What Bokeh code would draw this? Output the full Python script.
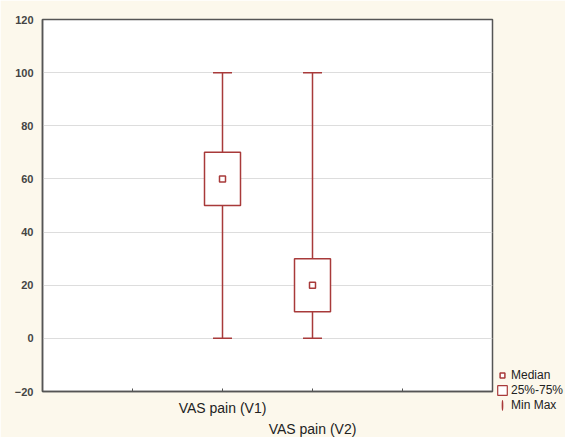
import math
from bokeh.plotting import figure
from bokeh.models import (ColumnDataSource, FixedTicker, LinearAxis, Legend, LegendItem, Range1d)
from bokeh.embed import file_html
from bokeh.resources import INLINE

# Data
categories = ["VAS pain (V1)", "VAS pain (V2)"]
positions = [1, 2]
medians = [60, 20]
q1 = [50, 10]
q3 = [70, 30]
mins = [0, 0]
maxs = [100, 100]
y_ticks = [-20, 0, 20, 40, 60, 80, 100, 120]
legend_labels = ["Median", "25%-75%", "Min Max"]

RED = "#a83a3a"
BG = "#fcf8ec"

p = figure(frame_width=450, frame_height=372, output_backend="svg", toolbar_location=None,
           x_range=Range1d(-1, 4), y_range=Range1d(-20, 120),
           min_border_left=42, min_border_top=19, min_border_bottom=44, min_border_right=0,
           background_fill_color="white", border_fill_color=BG)
p.outline_line_color = "#555555"
p.outline_line_width = 1.5

src = ColumnDataSource(dict(x=positions, med=medians, q1=q1, q3=q3, lo=mins, hi=maxs,
                            mid=[(a + b) / 2 for a, b in zip(q1, q3)],
                            h=[b - a for a, b in zip(q1, q3)]))

# whiskers
p.segment(x0="x", y0="q3", x1="x", y1="hi", source=src, line_color=RED, line_width=1.5)
p.segment(x0="x", y0="lo", x1="x", y1="q1", source=src, line_color=RED, line_width=1.5)
p.scatter(x="x", y="hi", source=src, marker="dash", size=19, line_color=RED, line_width=1.5)
p.scatter(x="x", y="lo", source=src, marker="dash", size=19, line_color=RED, line_width=1.5)
# boxes
p.rect(x="x", y="mid", width=0.4, height="h", source=src, fill_color="white",
       line_color=RED, line_width=1.5)
p.scatter(x="x", y="med", source=src, marker="square", size=6, fill_color="white",
          line_color=RED, line_width=1.5)

# Axes
p.xaxis.ticker = FixedTicker(ticks=[0, 1, 2, 3])
p.xaxis.major_label_overrides = {0: "", 1: categories[0], 2: "", 3: ""}
p.xaxis.major_tick_in = 3
p.xaxis.major_tick_out = 0
p.xaxis.minor_tick_line_color = None
p.xaxis.axis_line_color = "#555555"
p.xaxis.axis_line_width = 1.5
p.xaxis.major_tick_line_color = "#555555"
p.xaxis.major_label_text_font = "Liberation Sans"
p.xaxis.major_label_text_font_size = "14px"
p.xaxis.major_label_text_color = "#222222"
p.xaxis.major_label_standoff = 8

ax2 = LinearAxis(ticker=FixedTicker(ticks=[2]), major_label_overrides={2: categories[1]},
                 axis_line_color=None, major_tick_line_color=None, minor_tick_line_color=None,
                 major_tick_in=0, major_tick_out=0,
                 major_label_text_font="Liberation Sans", major_label_text_font_size="14px",
                 major_label_text_color="#222222", major_label_standoff=2)
p.add_layout(ax2, "below")

p.yaxis.ticker = FixedTicker(ticks=y_ticks)
p.yaxis.minor_tick_line_color = None
p.yaxis.major_tick_in = 0
p.yaxis.major_tick_out = 0
p.yaxis.axis_line_color = "#555555"
p.yaxis.axis_line_width = 1.5
p.yaxis.major_label_text_font = "Liberation Sans"
p.yaxis.major_label_text_font_size = "11px"
p.yaxis.major_label_text_font_style = "bold"
p.yaxis.major_label_text_color = "#444444"
p.yaxis.major_label_standoff = 9

p.xgrid.grid_line_color = None
p.ygrid.grid_line_color = "#dddddd"
p.ygrid.ticker = FixedTicker(ticks=y_ticks)

# Legend (proxy renderers with no visible points)
proxy = ColumnDataSource(dict(x=[math.nan], y=[math.nan]))
r_med = p.scatter(x="x", y="y", source=proxy, marker="square", size=7, fill_color="white",
                  line_color=RED, line_width=1.5)
r_box = p.rect(x="x", y="y", width=1, height=1, source=proxy, fill_color="white",
               line_color=RED, line_width=1.2)
r_ww = p.ellipse(x="x", y="y", width=1, height=20, width_units="screen", height_units="screen",
                 source=proxy, fill_color=None, line_color=RED, line_width=1.2)
legend = Legend(items=[LegendItem(label=legend_labels[0], renderers=[r_med]),
                       LegendItem(label=legend_labels[1], renderers=[r_box]),
                       LegendItem(label=legend_labels[2], renderers=[r_ww])],
                location=(4, -21), background_fill_alpha=0, border_line_color=None,
                label_text_font="Liberation Sans", label_text_font_size="12px",
                label_text_color="#222222", glyph_width=12, glyph_height=12,
                label_standoff=3, spacing=1, padding=0, margin=0, label_height=14)
p.add_layout(legend, "right")

open("out.html", "w").write(file_html(p, INLINE))
